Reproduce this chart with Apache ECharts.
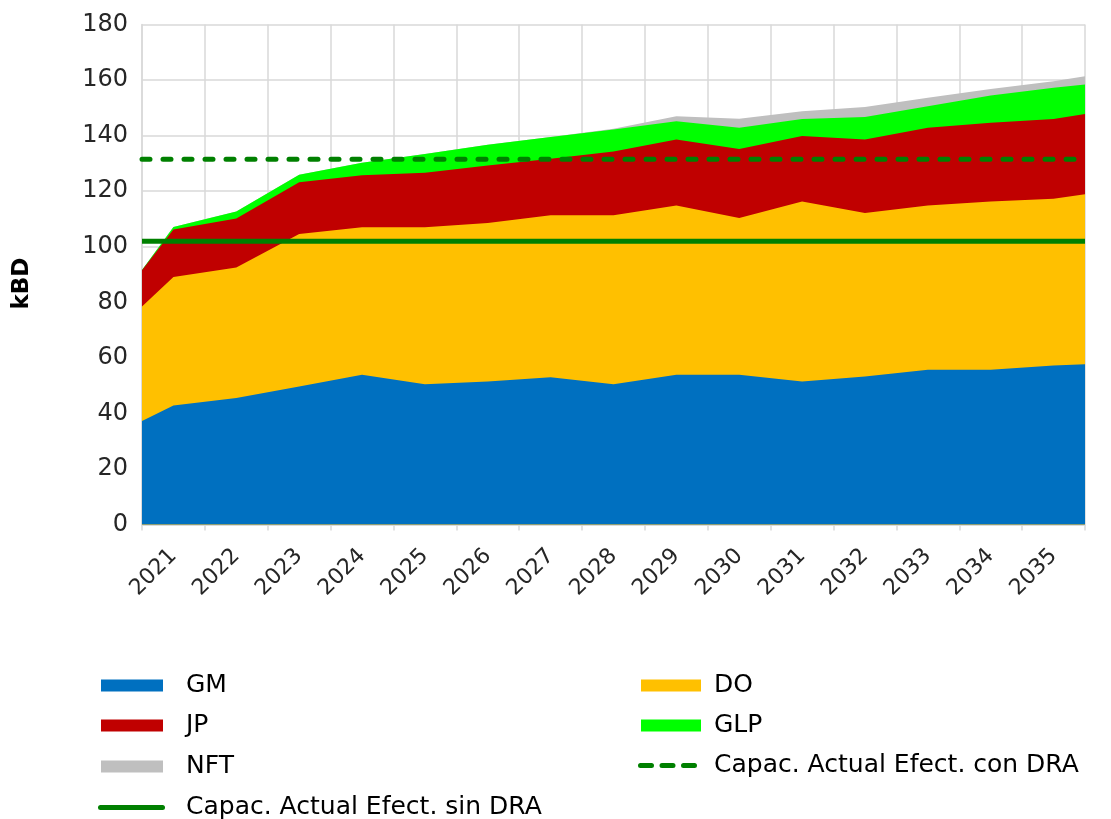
<!DOCTYPE html>
<html>
<head>
<meta charset="utf-8">
<script src="https://cdn.jsdelivr.net/npm/echarts@6/dist/echarts.min.js"></script>
<style>
html,body{margin:0;padding:0;background:#fff;}
#chart{width:1111px;height:819px;}
</style>
</head>
<body>
<div id="chart"></div>
<script>
// Year labels (one per category band)
const categories = ['2021','2022','2023','2024','2025','2026','2027','2028','2029','2030','2031','2032','2033','2034','2035'];
// Data points in category units: left edge, each year centre, right edge
const xPoints = [0, 0.5, 1.5, 2.5, 3.5, 4.5, 5.5, 6.5, 7.5, 8.5, 9.5, 10.5, 11.5, 12.5, 13.5, 14.5, 15];
// Stacked series values (kBD)
const gm  = [37.3, 42.8, 45.5, 49.7, 53.9, 50.5, 51.5, 53.0, 50.5, 53.9, 53.9, 51.5, 53.3, 55.7, 55.7, 57.2, 57.7];
const dO  = [41.2, 46.3, 47.0, 54.9, 53.1, 56.5, 57.0, 58.3, 60.8, 60.9, 56.4, 64.8, 58.8, 59.1, 60.6, 60.1, 61.2];
const jp  = [13.0, 17.1, 17.7, 18.6, 18.7, 19.6, 20.7, 20.4, 23.0, 23.8, 24.9, 23.6, 26.5, 28.0, 28.3, 28.7, 28.9];
const glp = [0.1, 0.9, 2.5, 2.7, 4.5, 6.8, 7.5, 7.8, 7.9, 6.6, 7.6, 6.1, 8.1, 7.8, 9.8, 11.2, 10.6];
const nft = [0, 0, 0, 0, 0, 0, 0, 0, 0.3, 1.8, 3.3, 2.8, 3.6, 3.0, 2.4, 2.4, 3.0];
// Capacity reference levels
const capSinDRA = 102;
const capConDRA = 131.5;
const xSpan = [0, 15];
// Y axis ticks
const yMin = 0, yMax = 180, yStep = 20;

const FONT = 'DejaVu Sans';
const layers = [
  { name: 'GM',  values: gm,  color: '#0070C0' },
  { name: 'DO',  values: dO,  color: '#FFC000' },
  { name: 'JP',  values: jp,  color: '#C00000' },
  { name: 'GLP', values: glp, color: '#00FF00' },
  { name: 'NFT', values: nft, color: '#BFBFBF' }
];
// cumulative tops for stacking
let running = xPoints.map(() => 0);
layers.forEach(l => {
  running = running.map((v, i) => v + l.values[i]);
  l.top = running.slice();
});

const areaSeries = layers.slice().reverse().map(l => ({
  name: l.name, type: 'line', xAxisIndex: 0, yAxisIndex: 0,
  data: xPoints.map((x, i) => [x, +l.top[i].toFixed(2)]),
  symbol: 'none', color: l.color,
  lineStyle: { width: 0, color: l.color },
  areaStyle: { color: l.color, opacity: 1 },
  itemStyle: { color: l.color },
  emphasis: { disabled: true }, z: 2
}));

const solidIcon = 'path://M2.5,0h62a2.5,2.5 0 0 1 0,5h-62a2.5,2.5 0 0 1 0,-5z';
const dashIcon = 'path://M2.5,0h11a2.5,2.5 0 0 1 0,5h-11a2.5,2.5 0 0 1 0,-5z M24,0h11a2.5,2.5 0 0 1 0,5h-11a2.5,2.5 0 0 1 0,-5z M45.5,0h11a2.5,2.5 0 0 1 0,5h-11a2.5,2.5 0 0 1 0,-5z';

function leg(name, left, top, w, h, gap, icon) {
  return {
    left, top, padding: 0, orient: 'horizontal', itemWidth: w, itemHeight: h,
    selectedMode: false, symbolKeepAspect: false,
    textStyle: { fontFamily: FONT, fontSize: 25, color: '#000', lineHeight: 28, padding: [3, 0, 0, gap] },
    data: [{ name, icon }]
  };
}

const chart = echarts.init(document.getElementById('chart'), null, { renderer: 'canvas' });
chart.setOption({
  animation: false,
  grid: { left: 142, right: 26, top: 24.5, bottom: 294.5, containLabel: false },
  xAxis: [
    {
      type: 'value', min: xSpan[0], max: xSpan[1], interval: 1,
      axisLine: { show: true, lineStyle: { color: '#D9D9D9', width: 1.5 } },
      axisTick: { show: true, length: 6, lineStyle: { color: '#D9D9D9', width: 1.5 } },
      axisLabel: { show: false },
      splitLine: { show: true, lineStyle: { color: '#D9D9D9', width: 1.5 } }
    },
    {
      type: 'category', data: categories, boundaryGap: true, position: 'bottom',
      axisLine: { show: false }, axisTick: { show: false },
      splitLine: { show: false },
      axisLabel: { rotate: 45, margin: 28, fontFamily: FONT, fontSize: 22, color: '#262626', interval: 0 }
    }
  ],
  yAxis: {
    type: 'value', min: yMin, max: yMax, interval: yStep,
    name: 'kBD', nameLocation: 'middle', nameGap: 108, nameRotate: 90,
    nameTextStyle: { fontFamily: FONT, fontSize: 23, fontWeight: 'bold', color: '#000', padding: [0, 18, 0, 0] },
    axisLine: { show: true, lineStyle: { color: '#D9D9D9', width: 1.5 } },
    axisTick: { show: false },
    axisLabel: { margin: 14, fontFamily: FONT, fontSize: 24, color: '#262626' },
    splitLine: { show: true, lineStyle: { color: '#D9D9D9', width: 1.5 } }
  },
  legend: [
    leg('GM', 101, 670, 62, 12, 18, 'rect'),
    leg('JP', 101, 710, 62, 12, 18, 'rect'),
    leg('NFT', 101, 751, 62, 12, 18, 'rect'),
    leg('Capac. Actual Efect. sin DRA', 98, 792, 67, 5, 16, solidIcon),
    leg('DO', 641, 670, 60, 12, 8, 'rect'),
    leg('GLP', 641, 710, 60, 12, 8, 'rect'),
    leg('Capac. Actual Efect. con DRA', 638, 750, 59, 5, 12, dashIcon)
  ],
  series: areaSeries.concat([
    {
      name: 'Capac. Actual Efect. sin DRA', type: 'line', xAxisIndex: 0,
      data: xSpan.map(x => [x, capSinDRA]), symbol: 'none', color: '#008000',
      lineStyle: { color: '#008000', width: 5 }, z: 5, emphasis: { disabled: true }
    },
    {
      name: 'Capac. Actual Efect. con DRA', type: 'line', xAxisIndex: 0,
      data: xSpan.map(x => [x, capConDRA]), symbol: 'none', color: '#008000',
      lineStyle: { color: '#008000', width: 5, type: [8, 13], cap: 'round' }, z: 5, emphasis: { disabled: true }
    }
  ])
});
</script>
</body>
</html>
